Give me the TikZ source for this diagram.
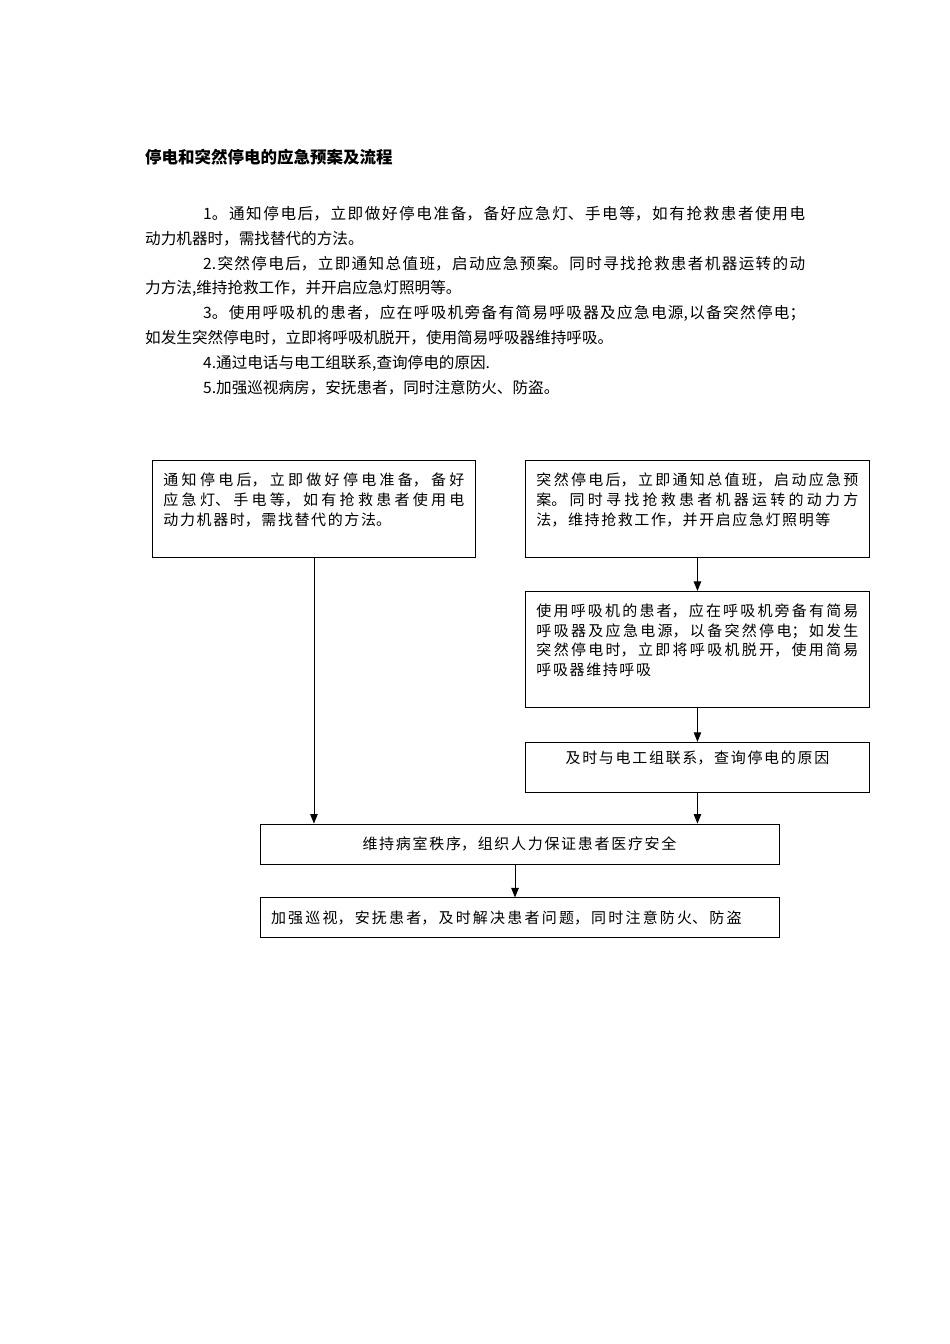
\documentclass[tikz,border=0pt]{standalone}
\usepackage{fontspec}
\setmainfont{Noto Sans CJK SC}
\usetikzlibrary{positioning,arrows.meta}
\XeTeXlinebreaklocale "zh"
\newcommand\titlefont{\fontsize{16.5}{20}\selectfont\bfseries}
\newcommand\bodyfont{\fontsize{15.6}{24.8}\selectfont\XeTeXlinebreakskip=0pt plus 3pt\relax}
\newcommand\boxfont{\fontsize{15}{19.6}\selectfont\XeTeXlinebreakskip=1.6pt plus 3pt\relax}
\newcommand\plainboxfont{\fontsize{15}{19.6}\selectfont\XeTeXlinebreakskip=1.7pt\relax}
\tikzstyle{box}   = [rectangle, draw=black, line width=0.9pt, inner xsep=11pt, inner ysep=0pt,
                     align=justify, font=\boxfont]
\tikzstyle{arrow} = [line width=0.9pt,-{Triangle[length=9.5pt,width=7.5pt]}]

\begin{document}
\begin{tikzpicture}[x=1pt,y=-1pt]
	\useasboundingbox[fill=white] (0,0) rectangle (950,1344);

	% title and text
	\node[anchor=west, inner sep=0pt, font=\titlefont] (title) at (145,157) {停电和突然停电的应急预案及流程};
	\node[anchor=north west, inner sep=0pt, text width=660pt, align=justify, font=\bodyfont] (body) at (145,206) {
		\hspace*{58pt}1。通知停电后，立即做好停电准备，备好应急灯、手电等，如有抢救患者使用电\linebreak
		动力机器时，需找替代的方法。\\
		\hspace*{58pt}2.突然停电后，立即通知总值班，启动应急预案。同时寻找抢救患者机器运转的动\linebreak
		力方法,维持抢救工作，并开启应急灯照明等。\\
		\hspace*{58pt}3。使用呼吸机的患者，应在呼吸机旁备有简易呼吸器及应急电源,以备突然停电；\linebreak
		如发生突然停电时，立即将呼吸机脱开，使用简易呼吸器维持呼吸。\\
		\hspace*{58pt}4.通过电话与电工组联系,查询停电的原因.\\
		\hspace*{58pt}5.加强巡视病房，安抚患者，同时注意防火、防盗。};

	% flow chart
	\node[box, text width=301pt, minimum height=97pt, anchor=north west] (notice) at (152,460)
		{通知停电后，立即做好停电准备，备好\linebreak 应急灯、手电等，如有抢救患者使用电\linebreak 动力机器时，需找替代的方法。\\ ~};
	\node[box, text width=322pt, minimum height=97pt, anchor=north west] (sudden) at (525,460)
		{突然停电后，立即通知总值班，启动应急预\linebreak 案。同时寻找抢救患者机器运转的动力方\linebreak 法，维持抢救工作，并开启应急灯照明等\\ ~};
	\node[box, text width=322pt, minimum height=116pt, below=33pt of sudden] (ventilator)
		{使用呼吸机的患者，应在呼吸机旁备有简易\linebreak 呼吸器及应急电源，以备突然停电；如发生\linebreak 突然停电时，立即将呼吸机脱开，使用简易\linebreak 呼吸器维持呼吸\\ ~};
	\node[box, text width=322pt, minimum height=50pt, align=center, font=\plainboxfont, below=34pt of ventilator] (contact)
		{及时与电工组联系，查询停电的原因\\ ~};
	\node[box, text width=497pt, minimum height=40pt, align=center, font=\plainboxfont] (order) at (519.5,844)
		{维持病室秩序，组织人力保证患者医疗安全};
	\node[box, text width=497pt, minimum height=40pt, align=left, font={\plainboxfont\XeTeXlinebreakskip=2.2pt\relax}, below=33pt of order] (patrol)
		{加强巡视，安抚患者，及时解决患者问题，同时注意防火、防盗};

	\draw[arrow] (notice.south) -- (notice.south |- order.north);
	\draw[arrow] (sudden.south) -- (ventilator.north);
	\draw[arrow] (ventilator.south) -- (contact.north);
	\draw[arrow] (contact.south) -- (contact.south |- order.north);
	\draw[arrow] ([xshift=-4.5pt]order.south) -- ([xshift=-4.5pt]patrol.north);
\end{tikzpicture}
\end{document}
